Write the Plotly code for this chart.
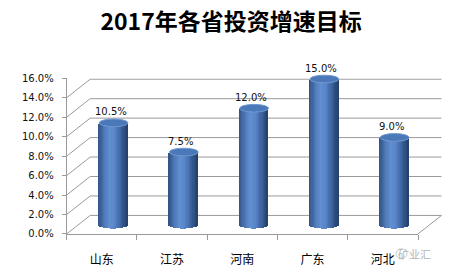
import math
import plotly.graph_objects as go

# ---------------- data ----------------
categories = ["山东", "江苏", "河南", "广东", "河北"]
values = [10.5, 7.5, 12.0, 15.0, 9.0]          # percent
y_ticks = [0, 2, 4, 6, 8, 10, 12, 14, 16]       # percent
title_text = "2017年各省投资增速目标"
watermark = "矿业汇"

# ---------------- geometry (pixels) ----------------
W, H = 464, 277
FX0, FX1 = 66.7, 418.0      # front floor edge
FY0, FY16 = 237.5, 76.0     # front 0% / 16%
DX, DY = 23.5, 18.5         # depth offset of back wall
PX_PER = (FY0 - FY16) / 0.16  # pixels per unit (fraction)
YMIN2 = -0.02

def px(x):
    return x / W

def py(y):
    return 1 - y / H

GRID = "#9a9a9a"

fig = go.Figure()

# ---------------- cylinder bars built from vertical strips ----------------
half_w = 0.205
h = 4.0 / PX_PER          # half height of ellipse (data units)
N = 24
stops = [(-1.0, (48, 82, 132)), (-0.55, (80, 122, 185)), (-0.2, (98, 144, 210)),
         (0.15, (88, 132, 200)), (0.6, (58, 96, 155)), (1.0, (36, 62, 104))]

def shade(u):
    for (a, ca), (b, cb) in zip(stops[:-1], stops[1:]):
        if a <= u <= b:
            t = (u - a) / (b - a)
            c = [round(ca[k] + (cb[k] - ca[k]) * t) for k in range(3)]
            return f"rgb({c[0]},{c[1]},{c[2]})"
    return "rgb(60,100,160)"

xs = list(range(len(categories)))
vals = [v / 100 for v in values]
sw = 2 * half_w / N
for j in range(N):
    u0 = -1 + 2 * j / N
    uc = u0 + 1 / N
    base = -h * math.sqrt(max(0.0, 1 - uc * uc))
    fig.add_trace(go.Bar(
        x=xs, y=vals, base=[base] * len(xs),
        width=sw * 1.08, offset=half_w * u0,
        marker=dict(color=shade(uc), line=dict(width=0)),
        xaxis="x2", yaxis="y2", hoverinfo="skip", showlegend=False,
    ))

# top ellipses
for i, v in zip(xs, vals):
    fig.add_shape(type="circle", xref="x2", yref="y2",
                  x0=i - half_w, x1=i + half_w, y0=v - h, y1=v + h,
                  fillcolor="#4a78b8", line=dict(color="#7098cf", width=1),
                  layer="above")

# data labels
for i, v in zip(xs, values):
    fig.add_annotation(xref="x2", yref="y2", x=i, y=v / 100, text=f"{v:.1f}%",
                       showarrow=False, yshift=11, xshift=-3,
                       font=dict(family="DejaVu Sans", size=10, color="#111111"))

# ---------------- 3D walls ----------------
for t in y_ticks:
    lv = t / 100
    # left wall diagonal
    fig.add_shape(type="line", xref="paper", yref="y", ysizemode="pixel", yanchor=lv,
                  x0=px(FX0), x1=px(FX0 + DX), y0=0, y1=DY,
                  line=dict(color=GRID, width=1), layer="below")
    # back wall gridline
    fig.add_shape(type="line", xref="paper", yref="y", ysizemode="pixel", yanchor=lv,
                  x0=px(FX0 + DX), x1=px(FX1 + DX), y0=DY, y1=DY,
                  line=dict(color=GRID, width=1), layer="below")
# floor right edge
fig.add_shape(type="line", xref="paper", yref="y", ysizemode="pixel", yanchor=0,
              x0=px(FX1), x1=px(FX1 + DX), y0=0, y1=DY,
              line=dict(color=GRID, width=1), layer="below")

# watermark
fig.add_annotation(xref="paper", yref="paper", x=px(433), y=py(258), text=watermark,
                   showarrow=False, yanchor="middle",
                   font=dict(family="Noto Sans CJK SC", size=11, color="#b5b5b5"))
fig.add_shape(type="circle", xref="paper", yref="paper",
              x0=px(396), x1=px(407), y0=py(263), y1=py(253),
              line=dict(color="#c8c8c8", width=1))

fig.update_layout(
    width=W, height=H,
    margin=dict(l=0, r=0, t=0, b=0),
    paper_bgcolor="white", plot_bgcolor="rgba(0,0,0,0)",
    barmode="overlay", bargap=0,
    title=dict(text=f"<b>{title_text}</b>", x=0.498, xanchor="center",
               y=py(22), yanchor="middle", yref="container",
               font=dict(family="Noto Sans CJK SC", size=23, color="black")),
    xaxis=dict(domain=[px(FX0), px(FX1)], range=[-0.5, 4.5],
               tickmode="array", tickvals=xs, ticktext=categories, ticks="",
               showline=True, linecolor=GRID, showgrid=False, zeroline=False,
               ticklabelstandoff=15,
               minor=dict(tickmode="array", tickvals=[i - 0.5 for i in range(6)],
                          ticks="outside", ticklen=5, tickcolor=GRID, showgrid=False),
               tickfont=dict(family="Noto Sans CJK SC", size=12, color="black"),
               anchor="y", fixedrange=True),
    yaxis=dict(domain=[py(FY0), py(FY16)], range=[0, 0.16],
               tickmode="array", tickvals=[t / 100 for t in y_ticks], tickformat=".1%",
               ticks="outside", ticklen=4, tickcolor=GRID,
               showline=True, linecolor=GRID, showgrid=False, zeroline=False,
               ticklabelstandoff=6,
               tickfont=dict(family="DejaVu Sans", size=10, color="#111111"),
               anchor="x", fixedrange=True),
    xaxis2=dict(domain=[px(FX0 + DX / 2), px(FX1 + DX / 2)], range=[-0.5, 4.5],
                visible=False, anchor="y2", fixedrange=True),
    yaxis2=dict(domain=[py(FY0 - DY / 2 - YMIN2 * PX_PER), py(FY16 - DY / 2)],
                range=[YMIN2, 0.16], visible=False, anchor="x2", fixedrange=True),
)

fig.write_html("out.html")
